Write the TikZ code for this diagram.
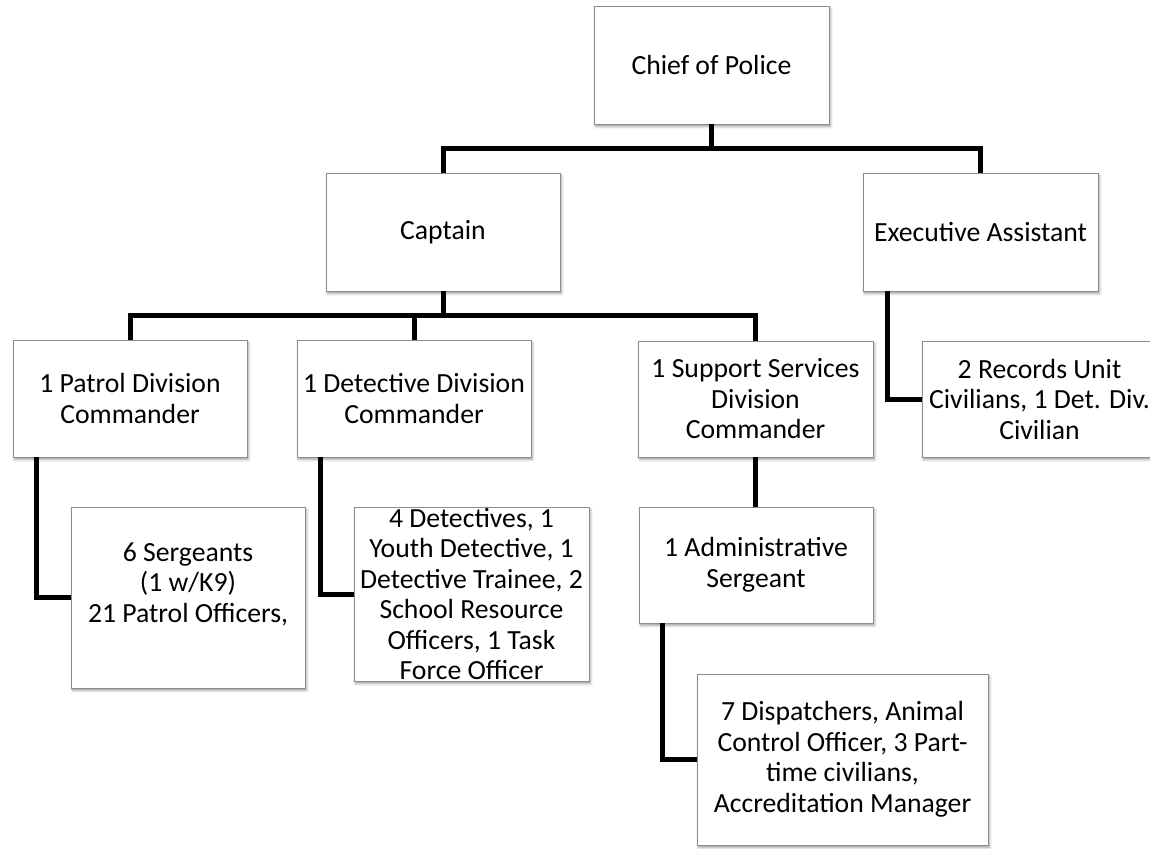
\documentclass[tikz,border=0pt]{standalone}
\usepackage{fontspec}
\setmainfont{Carlito}
\usetikzlibrary{calc,shadows.blur}
\begin{document}
\begin{tikzpicture}[x=1pt,y=-1pt,
  box/.style={draw=black!45, line width=0.9pt, fill=white, inner sep=0pt, outer sep=0pt,
    align=center, font=\fontsize{27.7}{30.5}\selectfont,
    blur shadow={shadow xshift=1.5pt, shadow yshift=-2.5pt, shadow blur radius=2.5pt, shadow opacity=40}},
  conn/.style={line width=5pt, line join=miter, draw=black}]
\useasboundingbox (0,0) rectangle (1150,848);
\clip (0,0) rectangle (1150,848);

\node[box, minimum width=235pt, minimum height=118pt] (chief) at (711.5,65) {Chief of Police};
\node[box, minimum width=234pt, minimum height=118pt] (captain) at (443,232) {Captain};
\node[box, minimum width=235pt, minimum height=118pt] (exec) at (980.5,232) {Executive Assistant};

\node[box, minimum width=234pt, minimum height=117pt] (patrol) at (130,398.5) {1 Patrol Division\\Commander};
\node[box, minimum width=234pt, minimum height=117pt] (detective) at (414,398.5) {1 Detective Division\\Commander};
\node[box, minimum width=235pt, minimum height=116pt] (support) at (755.5,399) {1 Support Services\\Division\\Commander};
\node[box, minimum width=235pt, minimum height=116pt] (records) at (1039.5,399) {2 Records Unit\\Civilians, 1 Det. Div.\\Civilian};

\node[box, minimum width=234pt, minimum height=181pt] (sergeants) at (188,597.5) {6 Sergeants\\(1 w/K9)\\21 Patrol Officers,\\ \mbox{}};
\node[box, minimum width=235pt, minimum height=174pt] (detsub) at (471.5,594) {4 Detectives, 1\\Youth Detective, 1\\Detective Trainee, 2\\School Resource\\Officers, 1 Task\\Force Officer};
\node[box, minimum width=234pt, minimum height=116pt] (admin) at (756,565) {1 Administrative\\Sergeant};
\node[box, minimum width=291pt, minimum height=171pt] (accred) at (842.5,759.5) {7 Dispatchers, Animal\\Control Officer, 3 Part-\\time civilians,\\Accreditation Manager};

% connectors
\coordinate (bus1) at ($(chief.south)+(0,24.5)$);
\draw[conn] (chief.south) -- (bus1);
\draw[conn] (captain.north) |- (bus1) -| (exec.north);

\coordinate (bus2) at ($(captain.south)+(0,24.5)$);
\draw[conn] (captain.south) -- (bus2);
\draw[conn] (patrol.north) |- (bus2) -| (support.north);
\draw[conn] (detective.north) -- (detective.north |- bus2);

\draw[conn] (support.south) -- (support.south |- admin.north);

\draw[conn] ($(patrol.south west)+(23,0)$) |- (sergeants.west);
\draw[conn] ($(detective.south west)+(23,0)$) |- (detsub.west);
\draw[conn] ($(admin.south west)+(23,0)$) |- (accred.west);
\draw[conn] ($(exec.south west)+(24,0)$) |- (records.west);
\end{tikzpicture}
\end{document}
